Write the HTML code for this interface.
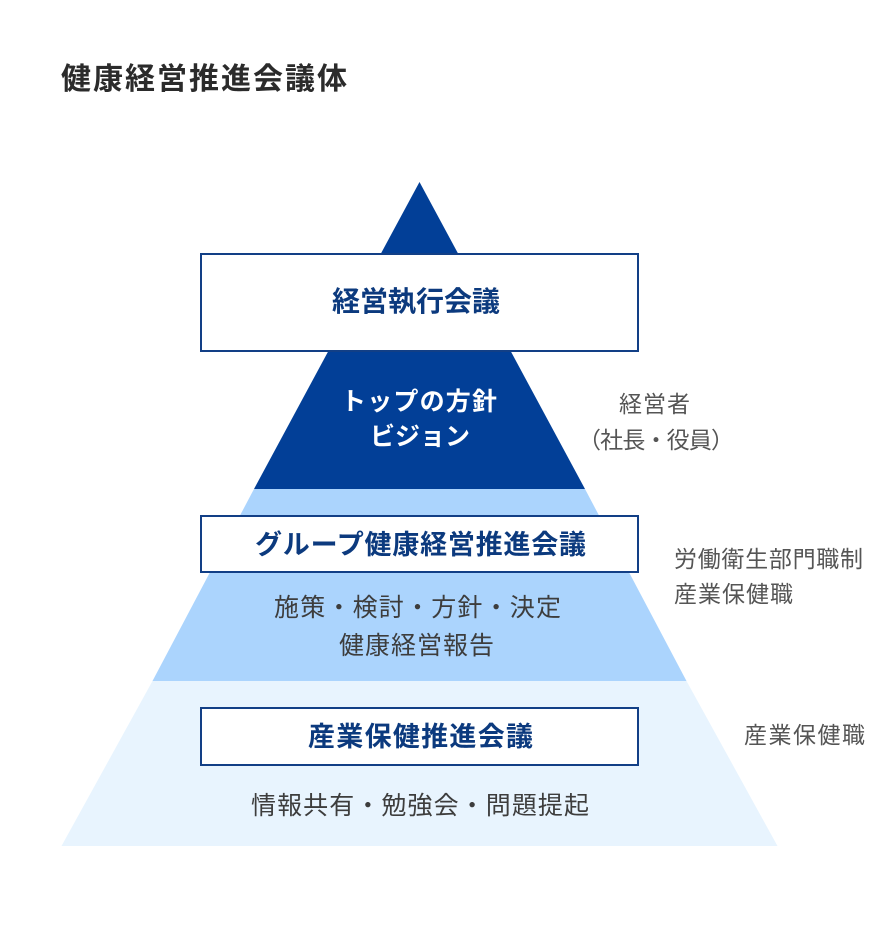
<!DOCTYPE html>
<html>
<head>
<meta charset="utf-8">
<style>
  html, body { margin: 0; padding: 0; background: #ffffff; }
  body { width: 896px; height: 950px; overflow: hidden; }
  svg { display: block; }
  text { font-family: "Liberation Sans", "Noto Sans CJK JP", sans-serif; }
  .b { font-weight: 700; }
</style>
</head>
<body>
<svg width="896" height="950" viewBox="0 0 896 950" xmlns="http://www.w3.org/2000/svg">
  <rect x="0" y="0" width="896" height="950" fill="#ffffff"/>

  <!-- Title -->
  <text class="b" x="61" y="89" font-size="30" fill="#2b2b2b" textLength="286" lengthAdjust="spacing">健康経営推進会議体</text>

  <!-- Pyramid bands -->
  <polygon points="152.5,681 686.5,681 777.5,846 61.5,846" fill="#e8f4fe"/>
  <polygon points="254,489 585,489 686.5,681 152.5,681" fill="#abd4fd"/>
  <polygon points="419.5,182 585,489 254,489" fill="#023f97"/>

  <!-- Box 1 -->
  <rect x="201" y="254" width="437" height="97" fill="#ffffff" stroke="#123f86" stroke-width="2"/>
  <text class="b" x="332" y="311" font-size="28" fill="#0c3a7e" textLength="168" lengthAdjust="spacing">経営執行会議</text>

  <!-- Top texts -->
  <text class="b" x="341" y="410" font-size="25" fill="#ffffff" textLength="156" lengthAdjust="spacing">トップの方針</text>
  <text class="b" x="370" y="445" font-size="25" fill="#ffffff" textLength="100" lengthAdjust="spacing">ビジョン</text>

  <!-- Box 2 -->
  <rect x="201" y="516" width="437" height="56" fill="#ffffff" stroke="#123f86" stroke-width="2"/>
  <text class="b" x="255" y="554" font-size="27" fill="#0c3a7e" textLength="331" lengthAdjust="spacing">グループ健康経営推進会議</text>

  <text x="274" y="616" font-size="25" fill="#3d3d3d" textLength="287" lengthAdjust="spacing">施策・検討・方針・決定</text>
  <text x="339" y="654" font-size="25" fill="#3d3d3d" textLength="155" lengthAdjust="spacing">健康経営報告</text>

  <!-- Box 3 -->
  <rect x="201" y="708" width="437" height="57" fill="#ffffff" stroke="#123f86" stroke-width="2"/>
  <text class="b" x="308" y="746" font-size="27" fill="#0c3a7e" textLength="225" lengthAdjust="spacing">産業保健推進会議</text>

  <text x="251" y="814" font-size="25" fill="#3d3d3d" textLength="338" lengthAdjust="spacing">情報共有・勉強会・問題提起</text>

  <!-- Right labels -->
  <text x="619" y="412" font-size="23" fill="#555555" textLength="71" lengthAdjust="spacing">経営者</text>
  <text x="578" y="448" font-size="23" fill="#555555" textLength="156" lengthAdjust="spacing">（社長・役員）</text>

  <text x="674" y="567" font-size="23" fill="#555555" textLength="189" lengthAdjust="spacing">労働衛生部門職制</text>
  <text x="674" y="602" font-size="23" fill="#555555" textLength="119" lengthAdjust="spacing">産業保健職</text>

  <text x="744" y="743" font-size="23" fill="#555555" textLength="121" lengthAdjust="spacing">産業保健職</text>
</svg>
</body>
</html>
